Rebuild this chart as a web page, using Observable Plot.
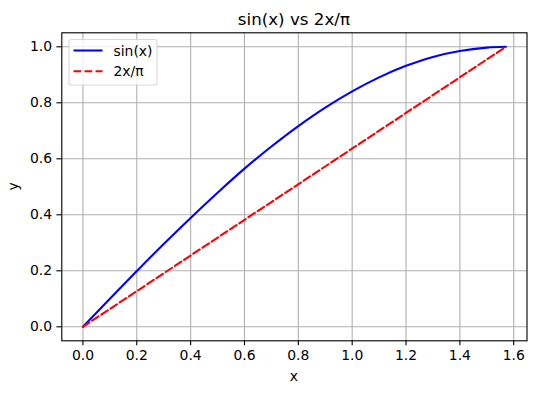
<!DOCTYPE html>
<html>
<head>
<meta charset="utf-8">
<script src="https://cdn.jsdelivr.net/npm/d3@7"></script>
<script src="https://cdn.jsdelivr.net/npm/@observablehq/plot@0.6"></script>
<style>
  html, body { margin: 0; padding: 0; background: #fff; }
  svg { font-family: "DejaVu Sans", sans-serif; }
</style>
</head>
<body>
<div id="chart"></div>
<script>
// Values
const sinX = [0, 0.1, 0.2, 0.3, 0.4, 0.5, 0.6, 0.7, 0.8, 0.9, 1.0, 1.1, 1.2, 1.3, 1.4, 1.5, 1.571];
const sinY = [0, 0.100, 0.199, 0.296, 0.389, 0.479, 0.565, 0.644, 0.717, 0.783, 0.841, 0.891, 0.932, 0.964, 0.985, 0.997, 1.0];
const linX = [0, 1.571];
const linY = [0, 1.0];
const xTicks = [0, 0.2, 0.4, 0.6, 0.8, 1.0, 1.2, 1.4, 1.6];
const yTicks = [0, 0.2, 0.4, 0.6, 0.8, 1.0];
const seriesNames = ["sin(x)", "2x/π"];
const seriesColors = ["#0000ff", "#ff0000"];
const titleText = "sin(x) vs 2x/π";

const sinData = sinX.map((x, i) => ({x, y: sinY[i]}));
const linData = linX.map((x, i) => ({x, y: linY[i]}));

const W = 536, H = 393;
const mL = 61.3, mR = W - 526.5, mT = 32.3, mB = H - 340.3;
const fs = 13.9;
const lw = 2.08;
const dash = "7.7,3.33";

const chart = Plot.plot({
  width: W,
  height: H,
  marginLeft: mL,
  marginRight: mR,
  marginTop: mT,
  marginBottom: mB,
  style: {fontFamily: "DejaVu Sans, sans-serif", fontSize: fs + "px", background: "#fff", overflow: "visible"},
  x: {domain: [-0.0785, 1.6493]},
  y: {domain: [-0.05, 1.05]},
  marks: [
    Plot.gridX(xTicks, {stroke: "#b0b0b0", strokeOpacity: 1, strokeWidth: 1.11}),
    Plot.gridY(yTicks, {stroke: "#b0b0b0", strokeOpacity: 1, strokeWidth: 1.11}),
    Plot.line(sinData, {x: "x", y: "y", stroke: seriesColors[0], strokeWidth: lw, curve: "catmull-rom"}),
    Plot.line(linData, {x: "x", y: "y", stroke: seriesColors[1], strokeWidth: lw, strokeDasharray: dash}),
    Plot.frame({stroke: "#000", strokeWidth: 1.11}),
    Plot.axisX(xTicks, {tickFormat: d3.format(".1f"), tickSize: 4.9, tickPadding: 4.9, stroke: "#000", strokeWidth: 1.11, fill: "#000", fontSize: fs, label: null}),
    Plot.axisY(yTicks, {tickFormat: d3.format(".1f"), tickSize: 4.9, tickPadding: 4.9, stroke: "#000", strokeWidth: 1.11, fill: "#000", fontSize: fs, label: null})
  ]
});

const svg = d3.select(chart);
const cx = (mL + (W - mR)) / 2;
const cy = (mT + (H - mB)) / 2;

// Title
svg.append("text").attr("x", cx).attr("y", 24.5).attr("text-anchor", "middle")
  .attr("font-size", 16.7).attr("fill", "#000").text(titleText);
// Axis labels
svg.append("text").attr("x", cx).attr("y", 380.5).attr("text-anchor", "middle")
  .attr("font-size", fs).attr("fill", "#000").text("x");
svg.append("text").attr("transform", `translate(18,${cy}) rotate(-90)`).attr("text-anchor", "middle")
  .attr("font-size", fs).attr("fill", "#000").text("y");

// Legend
const lg = svg.append("g");
lg.append("rect").attr("x", 69).attr("y", 39.5).attr("width", 88).attr("height", 45.5).attr("rx", 2.8)
  .attr("fill", "#fff").attr("fill-opacity", 0.8).attr("stroke", "#d8d8d8").attr("stroke-width", 1.11);
seriesNames.forEach((name, i) => {
  const yy = 50.5 + i * 20.7;
  lg.append("line").attr("x1", 73.5).attr("x2", 102.5).attr("y1", yy).attr("y2", yy)
    .attr("stroke", seriesColors[i]).attr("stroke-width", lw)
    .attr("stroke-dasharray", i === 1 ? dash : null);
  lg.append("text").attr("x", 113.5).attr("y", yy + 5).attr("text-anchor", "start")
    .attr("font-size", fs).attr("fill", "#000").text(name);
});

document.getElementById("chart").appendChild(chart);
</script>
</body>
</html>
